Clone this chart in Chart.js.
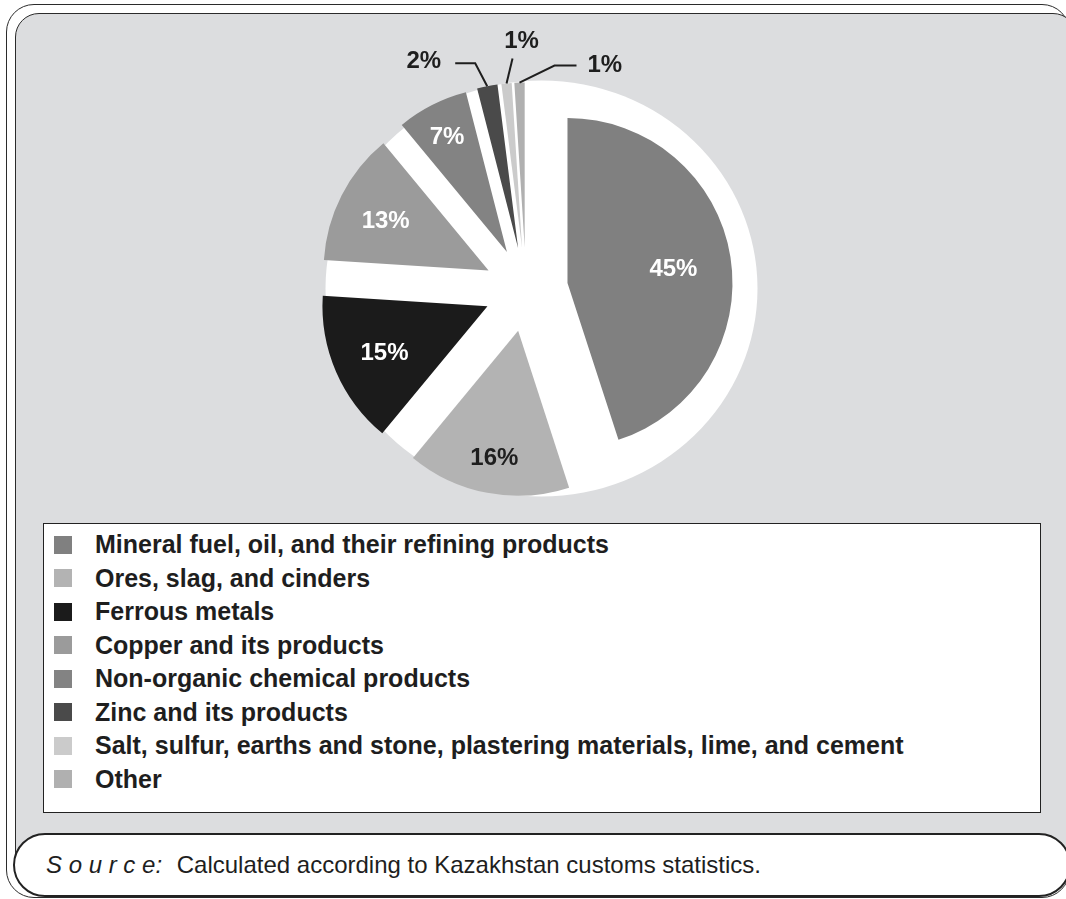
<!DOCTYPE html>
<html>
<head>
<meta charset="utf-8">
<title>Export structure</title>
<script src="https://cdn.jsdelivr.net/npm/chart.js@4.4.1/dist/chart.umd.min.js"></script>
<style>
  html, body { margin: 0; padding: 0; background: #fff; }
  body { width: 1066px; height: 899px; position: relative; overflow: hidden;
         font-family: "Liberation Sans", Arial, sans-serif; color: #1e1e1e; }
  .frame-outer { position: absolute; left: 6px; top: 4px; width: 1064px; height: 894px;
                 border: 1.5px solid #2b2b2b; border-radius: 28px; box-sizing: border-box; }
  .frame-inner { position: absolute; left: 15px; top: 13px; width: 1062px; height: 862px;
                 border: 1.5px solid #2b2b2b; border-radius: 24px; background: #dcdddf;
                 box-sizing: border-box; }
  #pie { position: absolute; left: 0; top: 0; }
  #legend { position: absolute; left: 43px; top: 523px; width: 998px; height: 290px;
            box-sizing: border-box; border: 1.5px solid #222; background: #fff;
            margin: 0; padding: 4px 0 0 10px; list-style: none; }
  #legend li { height: 33.5px; display: flex; align-items: center;
               font-weight: bold; font-size: 25px; white-space: nowrap; }
  #legend .box { width: 18px; height: 18px; margin-right: 23px; flex: none; }
  .source { position: absolute; left: 13px; top: 833px; width: 1058px; height: 64px;
            box-sizing: border-box; border: 2px solid #222; border-radius: 32px;
            background: #fff; font-size: 24px; line-height: 60px; padding-left: 31px;
            white-space: pre; }
  .source i { font-size: 24px; margin-right: 8px; }
</style>
</head>
<body>
<div class="frame-outer"></div>
<div class="frame-inner"></div>
<canvas id="pie" width="1052" height="579"></canvas>
<ul id="legend"></ul>
<div class="source"><i>S o u r c e:</i> Calculated according to Kazakhstan customs statistics.</div>

<script>
// data
const categories = [
  'Mineral fuel, oil, and their refining products',
  'Ores, slag, and cinders',
  'Ferrous metals',
  'Copper and its products',
  'Non-organic chemical products',
  'Zinc and its products',
  'Salt, sulfur, earths and stone, plastering materials, lime, and cement',
  'Other'
];
const shares = [45, 16, 15, 13, 7, 2, 1, 1];

// styles
const sliceColors = ['#808080', '#b3b3b3', '#1b1b1b', '#9b9b9b', '#838383', '#4a4a4a', '#cbcbcb', '#b0b0b0'];
const labelColors = ['#fff', '#1e1e1e', '#fff', '#fff', '#fff', '#1e1e1e', '#1e1e1e', '#1e1e1e'];
const labelRadius = [0.65, 0.77, 0.68, 0.70, 0.80];
const EXPLODE = 42;

// small slices get their label outside, offsets from the slice's outer edge
const callouts = {
  5: { path: [[-12, -23], [-32, -23]], text: [-46, -25], align: 'right' },
  6: { path: [[6, -25]], text: [15, -42], align: 'center' },
  7: { path: [[35, -17], [57, -17]], text: [68, -17], align: 'left' }
};

// white disc behind the exploded pie
const whiteDisk = {
  id: 'whiteDisk',
  beforeDatasetsDraw(chart) {
    const arc = chart.getDatasetMeta(0).data[0];
    const ctx = chart.ctx;
    ctx.save();
    ctx.fillStyle = '#fff';
    ctx.beginPath();
    ctx.ellipse(arc.x + 15.5, arc.y - 1, arc.outerRadius + 51, arc.outerRadius + 43, 0, 0, Math.PI * 2);
    ctx.fill();
    ctx.restore();
  }
};

// move every slice out along its middle angle
const explode = {
  id: 'explode',
  beforeDatasetDraw(chart, args) {
    const ctx = chart.ctx;
    args.meta.data.forEach(function(arc) {
      const mid = (arc.startAngle + arc.endAngle) / 2;
      ctx.save();
      ctx.translate(Math.cos(mid) * EXPLODE, Math.sin(mid) * EXPLODE);
      arc.draw(ctx, chart.chartArea);
      ctx.restore();
    });
    return false;
  }
};

const sliceLabels = {
  id: 'sliceLabels',
  afterDatasetsDraw(chart) {
    const ctx = chart.ctx;
    const meta = chart.getDatasetMeta(0);
    ctx.save();
    ctx.font = 'bold 24px "Liberation Sans", Arial, sans-serif';
    ctx.textBaseline = 'middle';
    meta.data.forEach(function(arc, i) {
      const mid = (arc.startAngle + arc.endAngle) / 2;
      const dx = Math.cos(mid), dy = Math.sin(mid);
      const ax = arc.x + dx * EXPLODE, ay = arc.y + dy * EXPLODE;
      const text = shares[i] + '%';
      const c = callouts[i];
      if (!c) {
        const r = arc.outerRadius * (labelRadius[i] || 0.7);
        ctx.fillStyle = labelColors[i];
        ctx.textAlign = 'center';
        ctx.fillText(text, ax + dx * r, ay + dy * r + 3);
        return;
      }
      const ex = ax + dx * arc.outerRadius, ey = ay + dy * arc.outerRadius;
      ctx.strokeStyle = '#1e1e1e';
      ctx.lineWidth = 2;
      ctx.beginPath();
      ctx.moveTo(ex, ey);
      c.path.forEach(function(p) { ctx.lineTo(ex + p[0], ey + p[1]); });
      ctx.stroke();
      ctx.fillStyle = labelColors[i];
      ctx.textAlign = c.align;
      ctx.fillText(text, ex + c.text[0], ey + c.text[1]);
    });
    ctx.restore();
  }
};

const chart = new Chart(document.getElementById('pie'), {
  type: 'pie',
  data: {
    labels: categories,
    datasets: [{
      data: shares,
      backgroundColor: sliceColors,
      borderWidth: 0
    }]
  },
  options: {
    responsive: false,
    animation: false,
    radius: 165,
    layout: { padding: 0 },
    plugins: {
      legend: { display: false },
      tooltip: { enabled: false }
    }
  },
  plugins: [whiteDisk, explode, sliceLabels]
});

// legend list built from the chart's own legend items
const legendEl = document.getElementById('legend');
chart.options.plugins.legend.labels.generateLabels(chart).forEach(function(item) {
  const li = document.createElement('li');
  const box = document.createElement('span');
  box.className = 'box';
  box.style.background = item.fillStyle;
  li.appendChild(box);
  li.appendChild(document.createTextNode(item.text));
  legendEl.appendChild(li);
});
</script>
</body>
</html>
